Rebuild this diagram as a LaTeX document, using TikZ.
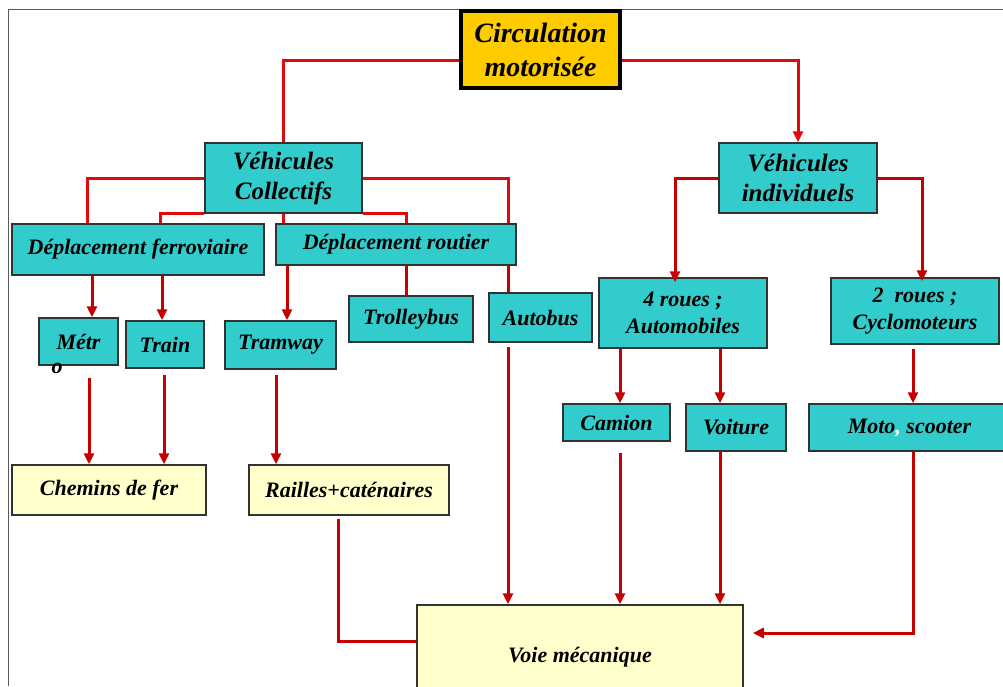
\documentclass[tikz,border=0pt]{standalone}
\usepackage{fontspec}
\setmainfont{Liberation Serif}
\usetikzlibrary{arrows.meta}
\definecolor{cyanfill}{RGB}{51,204,204}
\definecolor{topfill}{RGB}{255,204,0}
\definecolor{paleyellow}{RGB}{255,255,204}
\definecolor{boxline}{RGB}{50,50,50}
\definecolor{redA}{RGB}{225,10,10}
\definecolor{redB}{RGB}{196,0,0}
\definecolor{framegray}{RGB}{90,90,90}
\begin{document}
\begin{tikzpicture}[x=1pt,y=-1pt,
  box/.style={draw=boxline, line width=1.5pt, inner sep=0pt, align=center,
    font=\bfseries\itshape\fontsize{22}{27}\selectfont},
  cbox/.style={box, fill=cyanfill},
  ybox/.style={box, fill=paleyellow},
  topbox/.style={box, fill=topfill, draw=black, line width=3.5pt,
    font=\bfseries\itshape\fontsize{28}{34}\selectfont},
  bigtext/.style={font=\bfseries\itshape\fontsize{25}{30}\selectfont},
  conn/.style={draw=redB, line width=3pt},
  conntop/.style={draw=redA, line width=3pt},
  tip/.style={-{Triangle[length=11pt,width=10pt]}}
]
\useasboundingbox (0,0) rectangle (1003,686);
% frame
\draw[framegray, line width=1pt] (8,686) -- (8,9) -- (1003,9);

% nodes
\node[topbox, minimum width=159pt, minimum height=77pt] (top) at (540.5,49.5) {Circulation\\motoris\'ee};
\node[cbox, bigtext, minimum width=157pt, minimum height=70pt] (vc) at (283.5,178) {V\'ehicules\\Collectifs};
\node[cbox, bigtext, minimum width=158pt, minimum height=70pt] (vi) at (798,178) {V\'ehicules\\individuels};
\node[cbox, minimum width=252pt, minimum height=51pt] (df) at (138,249.5) {D\'eplacement ferroviaire};
\node[cbox, minimum width=240pt, minimum height=41pt] (dr) at (396,244.5) {D\'eplacement routier};
\node[cbox, minimum width=79pt, minimum height=47pt] (metro) at (78.5,341.5) {M\'etr};
\node[font=\bfseries\itshape\fontsize{22}{27}\selectfont, inner sep=0pt] (metroo) at (57,368) {o};
\node[cbox, minimum width=78pt, minimum height=47pt] (train) at (165,344.5) {Train};
\node[cbox, minimum width=111pt, minimum height=48pt] (tram) at (280.5,345) {Tramway};
\node[cbox, minimum width=124pt, minimum height=46pt] (trolley) at (411,319) {Trolleybus};
\node[cbox, minimum width=103pt, minimum height=49pt] (autobus) at (540.5,317.5) {Autobus};
\node[cbox, minimum width=168pt, minimum height=70pt] (rq) at (683,313) {4 roues ;\\Automobiles};
\node[cbox, minimum width=168pt, minimum height=66pt] (rd) at (915,311) {2~ roues ;\\Cyclomoteurs};
\node[cbox, minimum width=107pt, minimum height=37pt] (camion) at (616.5,422.5) {Camion};
\node[cbox, minimum width=100pt, minimum height=47pt] (voiture) at (736,427.5) {Voiture};
\node[cbox, minimum width=201pt, minimum height=47pt] (moto) at (909.5,427.5) {Moto{\color{white},} scooter};
\node[ybox, minimum width=194pt, minimum height=50pt] (chemins) at (109,490) {Chemins de fer};
\node[ybox, minimum width=200pt, minimum height=50pt] (railles) at (349,490) {Railles+cat\'enaires};
\node[ybox, minimum width=326pt, minimum height=104pt] (voie) at (580,657) {Voie m\'ecanique};

% top level connectors
\draw[conntop] (top.west |- 0,60) -| (vc.north);
\draw[conntop, tip] (top.east |- 0,60) -| (vi.north);

% collectifs
\draw[conntop] (vc.west) -| (df.north -| 87,0);
\draw[conntop] (vc.south west) -| (df.north -| 160,0);
\draw[conntop] (vc.south) -- (vc.south |- dr.north);
\draw[conntop] (vc.south east) -| (dr.north -| 406,0);
\draw[conntop] (vc.east) -| (dr.north -| 508,0);

\draw[conn, tip] (df.south -| 92,0) -- (metro.north -| 92,0);
\draw[conn, tip] (df.south -| 162,0) -- (train.north -| 162,0);
\draw[conn, tip] (dr.south -| 287,0) -- (tram.north -| 287,0);
\draw[conn] (dr.south -| 406,0) -- (trolley.north -| 406,0);
\draw[conn] (dr.south -| 508,0) -- (autobus.north -| 508,0);

% individuels
\draw[conn, tip] (vi.west) -| ([yshift=-5pt]rq.north -| 675,0);
\draw[conn, tip] (vi.east) -| ([yshift=-4pt]rd.north -| 922,0);
\draw[conn, tip] (rq.south -| 620,0) -- (camion.north -| 620,0);
\draw[conn, tip] (rq.south -| 720,0) -- (voiture.north -| 720,0);
\draw[conn, tip, shorten <=4pt] (rd.south -| 913,0) -- (moto.north -| 913,0);

% to infrastructure
\draw[conn, tip, shorten <=12pt] (metro.south -| 89,0) -- (chemins.north -| 89,0);
\draw[conn, tip, shorten <=6pt] (train.south -| 164,0) -- (chemins.north -| 164,0);
\draw[conn, tip, shorten <=5pt] (tram.south -| 276,0) -- (railles.north -| 276,0);
\draw[conn, shorten <=3pt] (railles.south -| 338,0) |- (voie.west |- 0,641);
\draw[conn, tip, shorten <=4pt] (autobus.south -| 508,0) -- (voie.north -| 508,0);
\draw[conn, tip, shorten <=11pt] (camion.south -| 620,0) -- (voie.north -| 620,0);
\draw[conn, tip] (voiture.south -| 720,0) -- (voie.north -| 720,0);
\draw[conn, tip, shorten >=9pt] (moto.south -| 913,0) |- (voie.east |- 0,633);
\end{tikzpicture}
\end{document}
